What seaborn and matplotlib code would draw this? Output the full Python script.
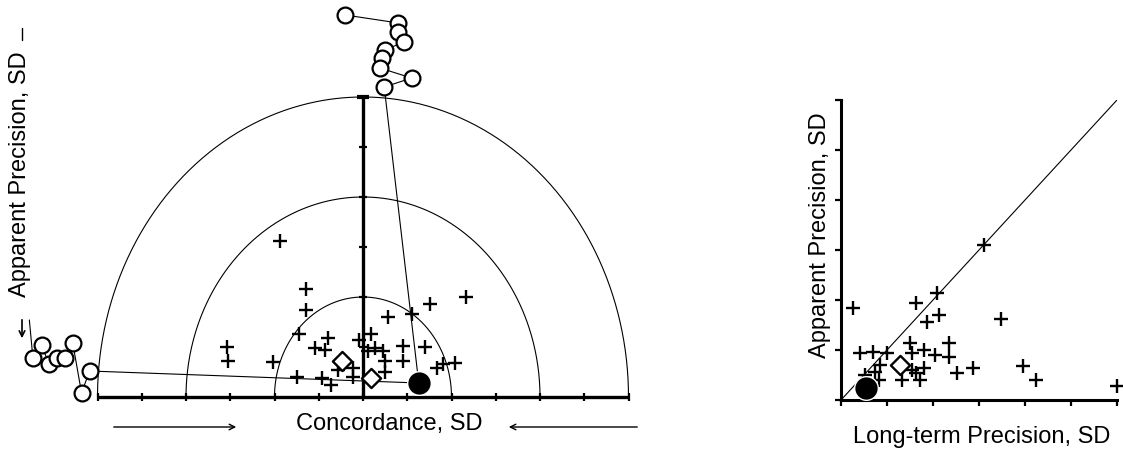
import numpy as np
import matplotlib
matplotlib.use("Agg")
import matplotlib.pyplot as plt
import seaborn as sns

# ---------------- data (SD units) ----------------
# left panel: concordance (x) vs apparent precision (y)
lab_conc = [-0.94, -0.64, -0.64, -0.72, -0.40, -0.54, -0.43, -1.54, -1.53, -1.02,
            -0.75, -0.46, -0.36, -0.28, -0.11, -0.11, -0.05, 0.09, 0.06, 0.14,
            0.23, 0.25, 0.25, 0.28, 0.45, 0.45, 0.55, 0.70, 0.76, 1.16,
            0.84, 0.90, 1.04]
lab_app = [1.56, 1.08, 0.87, 0.63, 0.59, 0.49, 0.47, 0.50, 0.36, 0.35,
           0.20, 0.19, 0.12, 0.27, 0.29, 0.20, 0.57, 0.63, 0.46, 0.49,
           0.46, 0.36, 0.25, 0.80, 0.51, 0.36, 0.83, 0.50, 0.93, 1.00,
           0.29, 0.33, 0.34]
mean_conc = [-0.24, 0.09]
mean_app = [0.36, 0.19]
ref_conc = [0.63]
ref_app = [0.14]
# off-scale trajectory above the chart
top_conc = [-0.20, 0.40, 0.39, 0.46, 0.25, 0.21, 0.19, 0.55, 0.24]
top_app = [3.82, 3.74, 3.65, 3.55, 3.47, 3.39, 3.29, 3.19, 3.10]
# off-scale trajectory left of the chart (first point has no marker)
left_conc = [-3.77, -3.73, -3.63, -3.55, -3.46, -3.37, -3.28, -3.18, -3.09]
left_app = [0.77, 0.39, 0.52, 0.33, 0.39, 0.39, 0.54, 0.04, 0.26]

# right panel: long-term precision (x) vs apparent precision (y)
lt_prec = [0.13, 1.55, 1.04, 0.82, 1.06, 0.93, 1.74, 0.21, 0.35, 0.50,
           0.75, 0.77, 0.90, 1.02, 1.17, 1.17, 0.42, 0.37, 0.41, 0.77,
           0.82, 0.90, 0.66, 0.86, 1.26, 1.44, 1.98, 2.12, 3.00, 0.26]
ap_prec = [0.92, 1.55, 1.07, 0.97, 0.85, 0.78, 0.81, 0.47, 0.48, 0.47,
           0.57, 0.47, 0.50, 0.45, 0.57, 0.43, 0.35, 0.28, 0.20, 0.30,
           0.27, 0.32, 0.20, 0.20, 0.27, 0.32, 0.34, 0.20, 0.14, 0.25]
mean_lt = [0.64]
mean_ap = [0.35]
ref_lt = [0.27]
ref_ap = [0.12]

ring_radii = [1, 2, 3]
half_ticks = [0.5, 1.0, 1.5, 2.0, 2.5, 3.0]

# ---------------- figure ----------------
sns.set_style("white")
plt.rcParams['font.family'] = ['Liberation Sans', 'DejaVu Sans']
plt.rcParams['text.color'] = 'black'
W, H = 1123, 451
fig = plt.figure(figsize=(W / 100, H / 100), dpi=100)

def fx(px):
    return px / W

def fy(py):
    return 1 - py / H

# ---- left panel ----
axL = fig.add_axes([0, 0, 650 / W, 1])
axL.set_xlim(-363 / 88.5, (650 - 363) / 88.5)
axL.set_ylim((397 - 451) / 100, 397 / 100)
axL.axis('off')

th = np.linspace(0, np.pi, 400)
for r in ring_radii:
    axL.plot(r * np.cos(th), r * np.sin(th), color='black', lw=0.8, zorder=1)
rmax = max(ring_radii)
axL.plot([-rmax, rmax], [0, 0], color='black', lw=2.4, solid_capstyle='butt', zorder=2)
axL.plot([0, 0], [0, rmax], color='black', lw=2.4, solid_capstyle='butt', zorder=2)
xt = np.concatenate([-np.array(half_ticks[::-1]), [0], half_ticks])
axL.plot(xt, np.zeros_like(xt), ls='none', marker='|', ms=6, mew=1.6, color='black', zorder=2)
axL.plot(np.zeros(len(half_ticks)), half_ticks, ls='none', marker='_', ms=6, mew=1.6,
         color='black', zorder=2)
axL.plot([0], [rmax], ls='none', marker='_', ms=8, mew=3, color='black', zorder=2)

# trajectories
sns.lineplot(x=top_conc + ref_conc, y=top_app + ref_app, sort=False, estimator=None,
             color='black', lw=0.8, ax=axL, zorder=2)
sns.lineplot(x=left_conc + ref_conc, y=left_app + ref_app, sort=False, estimator=None,
             color='black', lw=0.8, ax=axL, zorder=2)
sns.scatterplot(x=top_conc, y=top_app, marker='o', s=130, facecolor='white',
                edgecolor='black', linewidth=1.6, ax=axL, zorder=4, clip_on=False)
sns.scatterplot(x=left_conc[1:], y=left_app[1:], marker='o', s=130, facecolor='white',
                edgecolor='black', linewidth=1.6, ax=axL, zorder=4, clip_on=False)

sns.scatterplot(x=lab_conc, y=lab_app, marker='+', s=95, color='black', linewidth=1.7,
                ax=axL, zorder=3)
sns.scatterplot(x=mean_conc, y=mean_app, marker='D', s=95, facecolor='white',
                edgecolor='black', linewidth=1.7, ax=axL, zorder=4)
sns.scatterplot(x=ref_conc, y=ref_app, marker='o', s=290, color='black',
                edgecolor='white', linewidth=1.0, ax=axL, zorder=5)

# left panel labels
fs = 17
fig.text(fx(389), fy(424), "Concordance, SD", ha='center', va='center', fontsize=fs,
         color='black')
fig.text(fx(20), fy(174), "Apparent Precision, SD", ha='center', va='center',
         rotation=90, fontsize=fs, color='black')
axL.annotate('', xy=(fx(239), fy(427)), xytext=(fx(111), fy(427)),
             xycoords='figure fraction', textcoords='figure fraction',
             arrowprops=dict(arrowstyle='->', lw=1.0, color='black'))
axL.annotate('', xy=(fx(506), fy(427)), xytext=(fx(640), fy(427)),
             xycoords='figure fraction', textcoords='figure fraction',
             arrowprops=dict(arrowstyle='->', lw=1.0, color='black'))
axL.annotate('', xy=(fx(22), fy(341)), xytext=(fx(22), fy(317)),
             xycoords='figure fraction', textcoords='figure fraction',
             arrowprops=dict(arrowstyle='->', lw=1.2, color='black'))
fig.add_artist(plt.Line2D([fx(22), fx(22)], [fy(28), fy(40)], color='black', lw=1.0))

# ---- right panel ----
axR = fig.add_axes([fx(841), fy(400), 276 / W, 300 / H])
axR.set_xlim(0, 3)
axR.set_ylim(0, 3)
sns.despine(ax=axR)
for s in ['left', 'bottom']:
    axR.spines[s].set_linewidth(2.2)
    axR.spines[s].set_color('black')
ticks = [0] + half_ticks
axR.set_xticks(ticks)
axR.set_yticks(ticks)
axR.set_xticklabels([])
axR.set_yticklabels([])
axR.tick_params(direction='out', length=4, width=1.6, color='black', bottom=True, left=True)
axR.plot([0, 3], [0, 3], color='black', lw=0.8, zorder=2)

sns.scatterplot(x=lt_prec, y=ap_prec, marker='+', s=95, color='black', linewidth=1.7,
                ax=axR, zorder=3, clip_on=False)
sns.scatterplot(x=mean_lt, y=mean_ap, marker='D', s=95, facecolor='white',
                edgecolor='black', linewidth=1.7, ax=axR, zorder=4)
sns.scatterplot(x=ref_lt, y=ref_ap, marker='o', s=290, color='black',
                edgecolor='white', linewidth=1.0, ax=axR, zorder=5)
axR.set_xlabel('')
axR.set_ylabel('')
fig.text(fx(982), fy(437), "Long-term Precision, SD", ha='center', va='center', fontsize=fs,
         color='black')
fig.text(fx(820), fy(235), "Apparent Precision, SD", ha='center', va='center',
         rotation=90, fontsize=fs, color='black')

fig.savefig("out.png", dpi=100)
